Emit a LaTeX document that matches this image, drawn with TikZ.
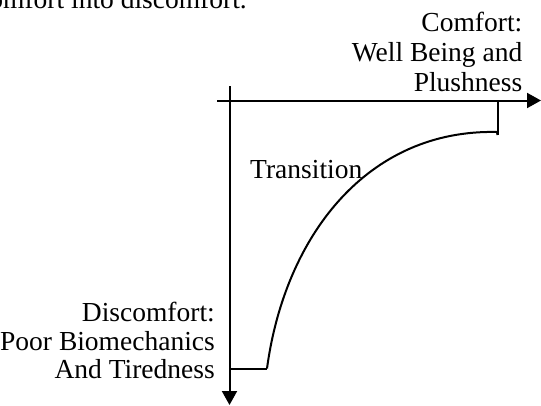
\documentclass[tikz,border=0pt]{standalone}
\usepackage{fontspec}
\setmainfont{Liberation Serif}
\usetikzlibrary{arrows.meta}
\begin{document}
\begin{tikzpicture}[x=1pt,y=-1pt,
  axis/.style={line width=2pt,-{Triangle[length=14pt,width=15pt]}},
  ln/.style={line width=2pt},
  lbl/.style={inner sep=0pt,align=right,font=\fontsize{27.5}{30}\selectfont},
  lblb/.style={inner sep=0pt,align=right,font=\fontsize{27.5}{28.5}\selectfont}]
\useasboundingbox (0,0) rectangle (541,405);
% axes
\coordinate (hstart) at (217,100.5);
\coordinate (hend) at (541,100.5);
\coordinate (vstart) at (229.5,86);
\coordinate (vend) at (229.5,405);
\draw[axis] (hstart) -- (hend);
\draw[axis] (vstart) -- (vend);
% ticks and curve
\coordinate (ttop) at (497.5,100.5);
\coordinate (tend) at (497.5,135);
\coordinate (cend) at (497,132);
\coordinate (bleft) at (229.5,368.5);
\coordinate (cstart) at (267,368.5);
\draw[ln] (ttop) -- (tend);
\draw[ln] (bleft) -- (cstart);
\draw[ln] (cstart) .. controls (285,235) and (368,129) .. (cend) -- (tend);
% texts
\node[lbl,anchor=base east] (top) at (247,8) {omfort into discomfort.};
\node[lbl,anchor=base east] (comfort1) at (522.5,31.7) {Comfort:};
\node[lbl,anchor=base east] (comfort2) at (522.5,61.7) {Well Being and};
\node[lbl,anchor=base east] (comfort3) at (522.5,91.7) {Plushness};
\node[lblb,anchor=base west] (trans) at (250,178) {Transition};
\node[lblb,anchor=base east] (dis1) at (215,321.7) {Discomfort:};
\node[lblb,anchor=base east] (dis2) at (215,350) {Poor Biomechanics};
\node[lblb,anchor=base east] (dis3) at (215,378.3) {And Tiredness};
\end{tikzpicture}
\end{document}
